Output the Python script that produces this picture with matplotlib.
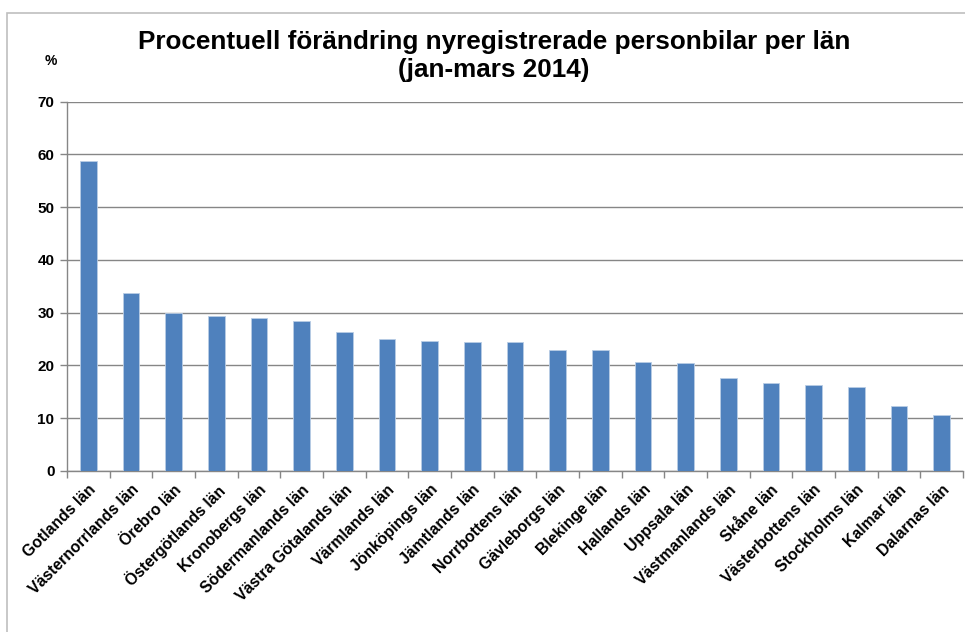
import matplotlib.pyplot as plt
import matplotlib.patches as patches
import numpy as np

plt.rcParams['font.family'] = ['Liberation Sans', 'DejaVu Sans']

# Data
counties = ['Gotlands län', 'Västernorrlands län', 'Örebro län', 'Östergötlands län',
            'Kronobergs län', 'Södermanlands län', 'Västra Götalands län', 'Värmlands län',
            'Jönköpings län', 'Jämtlands län', 'Norrbottens län', 'Gävleborgs län',
            'Blekinge län', 'Hallands län', 'Uppsala län', 'Västmanlands län',
            'Skåne län', 'Västerbottens län', 'Stockholms län', 'Kalmar län', 'Dalarnas län']
change_pct = [58.7, 33.8, 29.9, 29.4, 28.9, 28.4, 26.4, 25.0, 24.6, 24.5, 24.5,
              23.0, 22.9, 20.7, 20.4, 17.7, 16.7, 16.3, 16.0, 12.3, 10.7]
y_ticks = [0, 10, 20, 30, 40, 50, 60, 70]

W, H = 965, 632
fig = plt.figure(figsize=(W / 100, H / 100), dpi=100)

# light outer chart frame
fig.patches.append(patches.Rectangle((7 / W, -0.1), 1.2, 1 - 12.5 / H + 0.1,
                                     transform=fig.transFigure, fill=False,
                                     edgecolor='#bfbfbf', linewidth=1.2))

ax = fig.add_axes([67 / W, 1 - 471 / H, (963 - 67) / W, (471 - 101.5) / H])

x = np.arange(len(counties))
ax.bar(x, change_pct, width=0.39, color='#4F81BD', edgecolor='#B9CDE5',
       linewidth=0.6, zorder=3)

ax.set_xlim(-0.5, len(counties) - 0.5)
ax.set_ylim(0, 70)
ax.set_yticks(y_ticks)
ax.set_yticklabels([str(v) for v in y_ticks], fontsize=11, fontweight='bold')
ax.yaxis.grid(True, color='#868686', linewidth=1, zorder=0)

# x ticks sit on the category boundaries, labels at centres
ax.set_xticks(np.arange(len(counties) + 1) - 0.5)
ax.set_xticklabels([])
ax.set_xticks(x, minor=True)
ax.set_xticklabels(counties, minor=True, rotation=45, ha='right',
                   rotation_mode='anchor', fontsize=11.3, fontweight='bold')
ax.tick_params(axis='x', which='minor', length=0, pad=8)
ax.tick_params(axis='x', which='major', length=5, color='#868686', width=1)
ax.tick_params(axis='y', length=5, color='#868686', width=1, pad=4)

for side in ['top', 'right']:
    ax.spines[side].set_visible(False)
for side in ['left', 'bottom']:
    ax.spines[side].set_color('#868686')
    ax.spines[side].set_linewidth(1)

fig.text(494 / W, 1 - 56 / H, 'Procentuell förändring nyregistrerade personbilar per län\n(jan-mars 2014)',
         ha='center', va='center', fontsize=18.8, fontweight='bold', linespacing=1.22)
fig.text(51 / W, 1 - 61 / H, '%', ha='center', va='center', fontsize=10, fontweight='bold')

plt.savefig('out.png', dpi=100)
